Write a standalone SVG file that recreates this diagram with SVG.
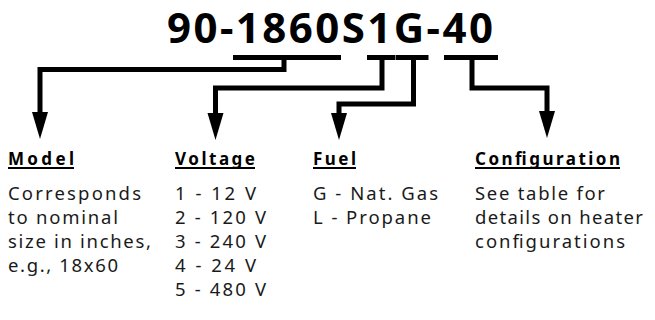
<svg xmlns="http://www.w3.org/2000/svg" width="655" height="320" viewBox="0 0 655 320">
<defs>
<style>
.title{font-family:"Noto Sans","Open Sans",sans-serif;font-weight:700;font-size:42px;fill:#000}
.head{font-family:"Noto Sans","Open Sans",sans-serif;font-weight:700;font-size:17px;fill:#000}
.body{font-family:"Noto Sans","Open Sans",sans-serif;font-size:18.5px;fill:#1a1a1a}
.ul{stroke:#000;stroke-width:2}
.bar{fill:#000}
.conn{fill:none;stroke:#000;stroke-width:5;stroke-linejoin:miter;stroke-linecap:butt}
.head-arrow{fill:#000}
</style>
</defs>
<rect width="655" height="320" fill="#fff"/>
<g id="title">
<text class="title" x="167" y="43" textLength="326" lengthAdjust="spacing">90-1860S1G-40</text>
<rect class="bar" x="233" y="55" width="108" height="5"/>
<rect class="bar" x="367" y="55" width="28" height="5"/>
<rect class="bar" x="395.5" y="55" width="33" height="5"/>
<rect class="bar" x="444" y="55" width="54" height="5"/>
</g>
<g id="connectors">
<path class="conn" d="M284,60 V69.5 H40 V112"/>
<path class="head-arrow" d="M32,112 H48 L40,139 Z"/>
<path class="conn" d="M382,60 V88 H215.5 V113"/>
<path class="head-arrow" d="M207.5,113 H223.5 L215.5,140 Z"/>
<path class="conn" d="M413.5,60 V104 H339 V113"/>
<path class="head-arrow" d="M331,113 H347 L339,140 Z"/>
<path class="conn" d="M472,60 V88 H547 V111"/>
<path class="head-arrow" d="M539,111 H555 L547,138 Z"/>
</g>
<g id="model">
<text class="head" x="8" y="165" textLength="66" lengthAdjust="spacing">Model</text>
<line class="ul" x1="8" y1="168" x2="74" y2="168"/>
<text class="body" x="8" y="200" textLength="133" lengthAdjust="spacing">Corresponds</text>
<text class="body" x="8" y="224" textLength="110" lengthAdjust="spacing">to nominal</text>
<text class="body" x="8" y="248" textLength="143" lengthAdjust="spacing">size in inches,</text>
<text class="body" x="8" y="272" textLength="110" lengthAdjust="spacing">e.g., 18x60</text>
</g>
<g id="voltage">
<text class="head" x="175" y="165" textLength="80" lengthAdjust="spacing">Voltage</text>
<line class="ul" x1="175" y1="168" x2="255" y2="168"/>
<text class="body" x="175" y="200" textLength="81" lengthAdjust="spacing">1 - 12 V</text>
<text class="body" x="175" y="224" textLength="91" lengthAdjust="spacing">2 - 120 V</text>
<text class="body" x="175" y="248" textLength="91" lengthAdjust="spacing">3 - 240 V</text>
<text class="body" x="175" y="272" textLength="81" lengthAdjust="spacing">4 - 24 V</text>
<text class="body" x="175" y="296" textLength="91" lengthAdjust="spacing">5 - 480 V</text>
</g>
<g id="fuel">
<text class="head" x="313" y="165" textLength="43" lengthAdjust="spacing">Fuel</text>
<line class="ul" x1="313" y1="168" x2="356" y2="168"/>
<text class="body" x="313" y="200" textLength="125" lengthAdjust="spacing">G - Nat. Gas</text>
<text class="body" x="313" y="224" textLength="118" lengthAdjust="spacing">L - Propane</text>
</g>
<g id="configuration">
<text class="head" x="475" y="165" textLength="145" lengthAdjust="spacing">Configuration</text>
<line class="ul" x1="475" y1="168" x2="620" y2="168"/>
<text class="body" x="475" y="200" textLength="130" lengthAdjust="spacing">See table for</text>
<text class="body" x="475" y="224" textLength="168" lengthAdjust="spacing">details on heater</text>
<text class="body" x="475" y="248" textLength="150" lengthAdjust="spacing">configurations</text>
</g>
</svg>
